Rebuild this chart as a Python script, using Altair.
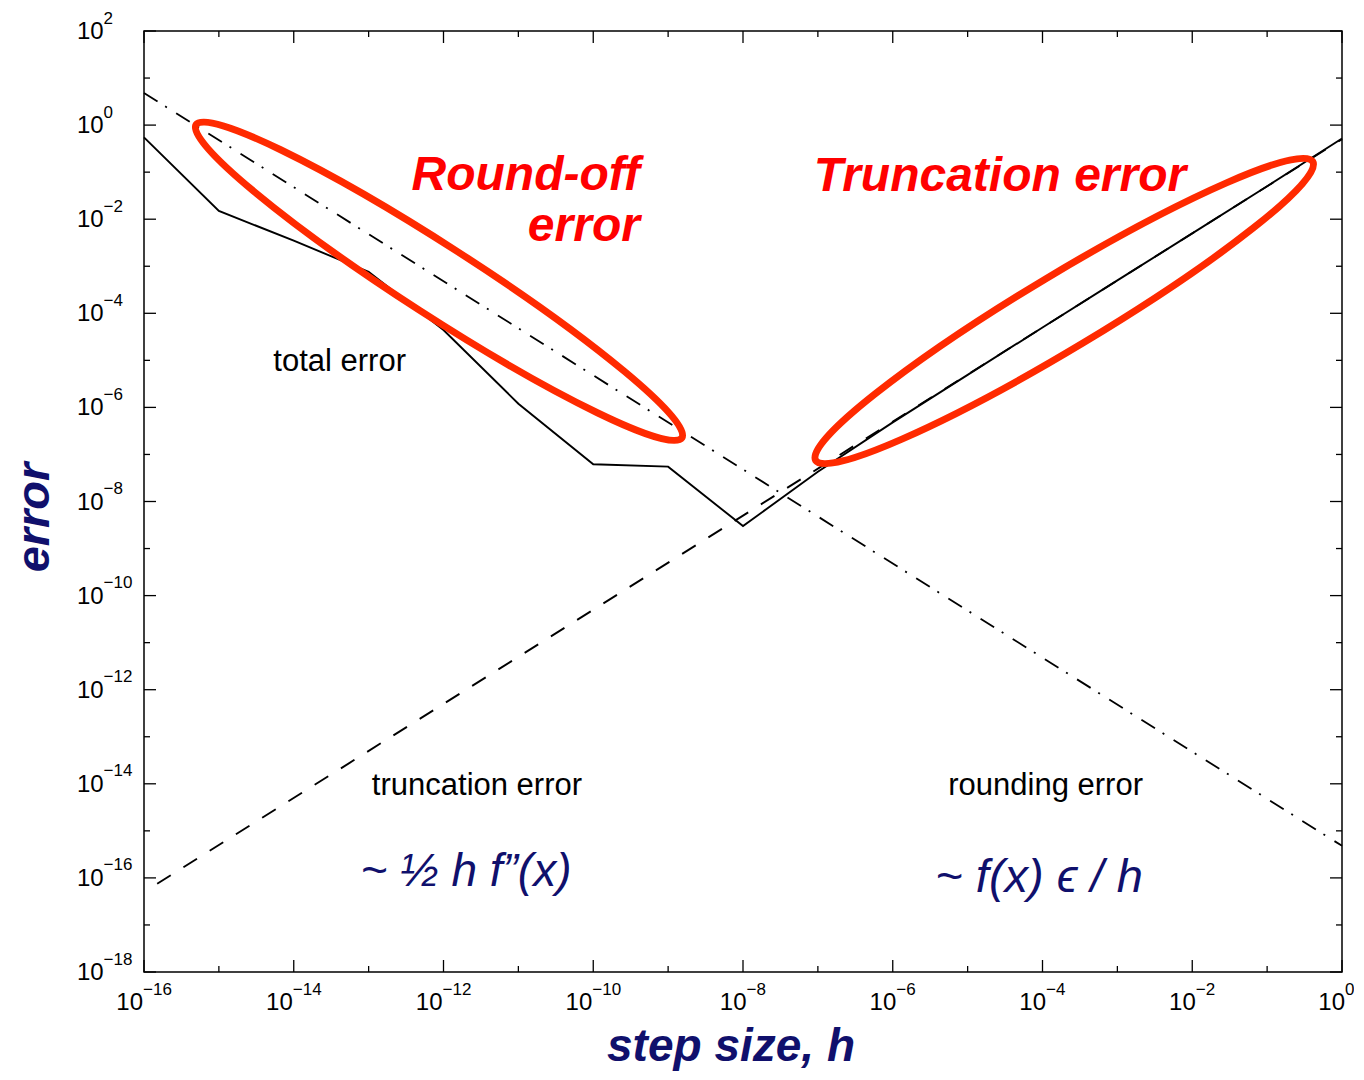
import altair as alt
import pandas as pd

# ---------------- data ----------------
# total error (solid)
total_h = [1e-16, 1e-15, 1e-14, 1e-13, 1e-12, 1e-11, 1e-10, 1e-9, 1e-8,
           1e-7, 1e-6, 1e-5, 1e-4, 1e-3, 1e-2, 1e-1, 1e0]
total_err = [5.5e-1, 1.5e-2, 3.5e-3, 7.6e-4, 4.4e-5, 1.2e-6, 6.2e-8, 5.5e-8, 3.0e-9,
             4.3e-8, 4.8e-7, 4.9e-6, 5.0e-5, 5.0e-4, 5.0e-3, 5.0e-2, 5.2e-1]
# truncation error (dashed)
trunc_h = [1.5e-16, 1e0]
trunc_err = [7.5e-17, 5.0e-1]
# rounding error (dash-dot)
round_h = [1e-16, 1e0]
round_err = [4.8e0, 4.8e-16]

# highlight ellipses (centre, angle, semi-axis ratio)
ellipse_h = [8.7e-13, 1.95e-4]
ellipse_err = [4.8e-4, 1.12e-4]
ellipse_angle = [32.8, 329.0]
ellipse_ratio = [0.121, 0.128]
ellipse_len = [578, 580]

# tick exponents and labels
x_major = [-16, -14, -12, -10, -8, -6, -4, -2, 0]
x_minor = [-15, -13, -11, -9, -7, -5, -3, -1]
x_sup = ["\u221216", "\u221214", "\u221212", "\u221210", "\u22128", "\u22126", "\u22124", "\u22122", "0"]
y_major = [2, 0, -2, -4, -6, -8, -10, -12, -14, -16, -18]
y_minor = [1, -1, -3, -5, -7, -9, -11, -13, -15, -17]
y_sup = ["2", "0", "\u22122", "\u22124", "\u22126", "\u22128", "\u221210", "\u221212", "\u221214", "\u221216", "\u221218"]

# annotation texts
red_texts = ["Round-off", "error"]
red_h = [4.2e-10, 4.2e-10]
red_err = [4.2e-2, 3.5e-3]
red2_texts = ["Truncation error"]
red2_h = [2.7e-5]
red2_err = [4.0e-2]
black_texts = ["total error", "truncation error", "rounding error"]
black_h = [4.1e-14, 2.8e-12, 1.1e-4]
black_err = [5.8e-6, 5.8e-15, 5.8e-15]
formula_texts = ["~ \u00bd h f\u201d(x)", "~ f(x) \u03f5 / h"]
formula_h = [2.0e-12, 9.0e-5]
formula_err = [6.8e-17, 5.1e-17]
formula_size = [46, 47]

W, H = 1198, 941
FONT = "Liberation Sans"
NAVY = "#10106c"
RED = "#ff0000"
ELL = "#ff2a00"

xs = alt.Scale(type="log", domain=[1e-16, 1e0], nice=False)
ys = alt.Scale(type="log", domain=[1e-18, 1e2], nice=False)


def X(f="h"):
    return alt.X(f"{f}:Q", scale=xs, axis=None)


def Y(f="e"):
    return alt.Y(f"{f}:Q", scale=ys, axis=None)


layers = []

# ---------------- lines ----------------
df_total = pd.DataFrame({"h": total_h, "e": total_err})
df_trunc = pd.DataFrame({"h": trunc_h, "e": trunc_err})
df_round = pd.DataFrame({"h": round_h, "e": round_err})

layers.append(alt.Chart(df_round).mark_line(color="black", strokeWidth=1.8,
                                             strokeDash=[16, 9, 2, 11]).encode(x=X(), y=Y()))
layers.append(alt.Chart(df_trunc).mark_line(color="black", strokeWidth=1.9,
                                             strokeDash=[16, 15]).encode(x=X(), y=Y()))
layers.append(alt.Chart(df_total).mark_line(color="black", strokeWidth=1.9).encode(x=X(), y=Y()))

# ---------------- ellipses ----------------


def ellipse_path(b):
    k = 0.5523
    return (f"M1,0 C1,{k*b:.4f} {k:.4f},{b:.4f} 0,{b:.4f} "
            f"C{-k:.4f},{b:.4f} -1,{k*b:.4f} -1,0 "
            f"C-1,{-k*b:.4f} {-k:.4f},{-b:.4f} 0,{-b:.4f} "
            f"C{k:.4f},{-b:.4f} 1,{-k*b:.4f} 1,0 Z")


for i in range(2):
    dfe = pd.DataFrame({"h": [ellipse_h[i]], "e": [ellipse_err[i]]})
    layers.append(alt.Chart(dfe).mark_point(
        shape=ellipse_path(ellipse_ratio[i]), size=ellipse_len[i] ** 2,
        angle=ellipse_angle[i], filled=False, stroke=ELL, strokeWidth=7, opacity=1
    ).encode(x=X(), y=Y()))

# ---------------- ticks (inward, all four sides) ----------------
for exps, ln in ((x_major, 12), (x_minor, 6)):
    dft = pd.DataFrame({"h": [10.0 ** e for e in exps]})
    layers.append(alt.Chart(dft).mark_rule(color="black", strokeWidth=1.3).encode(
        x=X(), y=alt.value(H), y2=alt.value(H - ln)))
    layers.append(alt.Chart(dft).mark_rule(color="black", strokeWidth=1.3).encode(
        x=X(), y=alt.value(0), y2=alt.value(ln)))
for exps, ln in ((y_major, 12), (y_minor, 6)):
    dft = pd.DataFrame({"e": [10.0 ** e for e in exps]})
    layers.append(alt.Chart(dft).mark_rule(color="black", strokeWidth=1.3).encode(
        y=Y(), x=alt.value(0), x2=alt.value(ln)))
    layers.append(alt.Chart(dft).mark_rule(color="black", strokeWidth=1.3).encode(
        y=Y(), x=alt.value(W), x2=alt.value(W - ln)))

# ---------------- tick labels ----------------
junction = {3: -1.0, 2: 3.5, 1: 3.0}
for n, dx in junction.items():
    idx = [i for i, s in enumerate(x_sup) if len(s) == n]
    dfl = pd.DataFrame({"h": [10.0 ** x_major[i] for i in idx],
                        "ten": ["10"] * len(idx),
                        "sup": [x_sup[i] for i in idx]})
    layers.append(alt.Chart(dfl).mark_text(font=FONT, fontSize=24, align="right",
                                           baseline="middle", dx=dx, color="black").encode(
        x=X(), y=alt.value(H + 31), text="ten:N"))
    layers.append(alt.Chart(dfl).mark_text(font=FONT, fontSize=17, align="left",
                                           baseline="middle", dx=dx, color="black").encode(
        x=X(), y=alt.value(H + 18), text="sup:N"))

dfy = pd.DataFrame({"e": [10.0 ** e for e in y_major], "ten": ["10"] * len(y_major), "sup": y_sup})
layers.append(alt.Chart(dfy).mark_text(font=FONT, fontSize=24, align="left",
                                       baseline="middle", dy=1, color="black").encode(
    y=Y(), x=alt.value(-67), text="ten:N"))
layers.append(alt.Chart(dfy).mark_text(font=FONT, fontSize=17, align="left",
                                       baseline="middle", dy=-12.5, color="black").encode(
    y=Y(), x=alt.value(-40.5), text="sup:N"))

# ---------------- annotations ----------------
df_red = pd.DataFrame({"h": red_h, "e": red_err, "t": red_texts})
layers.append(alt.Chart(df_red).mark_text(font=FONT, fontSize=48, fontWeight="bold",
                                          fontStyle="italic", align="right",
                                          baseline="alphabetic", color=RED).encode(
    x=X(), y=Y(), text="t:N"))
df_red2 = pd.DataFrame({"h": red2_h, "e": red2_err, "t": red2_texts})
layers.append(alt.Chart(df_red2).mark_text(font=FONT, fontSize=48, fontWeight="bold",
                                           fontStyle="italic", align="center",
                                           baseline="alphabetic", color=RED).encode(
    x=X(), y=Y(), text="t:N"))
df_black = pd.DataFrame({"h": black_h, "e": black_err, "t": black_texts})
layers.append(alt.Chart(df_black).mark_text(font=FONT, fontSize=31, align="center",
                                            baseline="alphabetic", color="black").encode(
    x=X(), y=Y(), text="t:N"))
for i in range(2):
    dff = pd.DataFrame({"h": [formula_h[i]], "e": [formula_err[i]], "t": [formula_texts[i]]})
    layers.append(alt.Chart(dff).mark_text(font=FONT, fontSize=formula_size[i],
                                           fontStyle="italic", align="center",
                                           baseline="alphabetic", color=NAVY).encode(
        x=X(), y=Y(), text="t:N"))

# ---------------- axis titles ----------------
layers.append(alt.Chart(pd.DataFrame({"t": ["step size, h"]})).mark_text(
    font=FONT, fontSize=46, fontWeight="bold", fontStyle="italic", align="center",
    baseline="alphabetic", color=NAVY).encode(x=alt.value(587), y=alt.value(1030), text="t:N"))
layers.append(alt.Chart(pd.DataFrame({"t": ["error"]})).mark_text(
    font=FONT, fontSize=47, fontWeight="bold", fontStyle="italic", align="center",
    baseline="alphabetic", angle=270, color=NAVY).encode(x=alt.value(-95), y=alt.value(486.5), text="t:N"))

chart = alt.layer(*layers).properties(
    width=W, height=H,
    autosize=alt.AutoSizeParams(type="none"),
    padding={"left": 136, "top": 23, "right": 12, "bottom": 100},
    background="white",
).configure_view(stroke="black", strokeWidth=1.5)

chart.save("out.html", embed_options={"renderer": "svg", "actions": False})
